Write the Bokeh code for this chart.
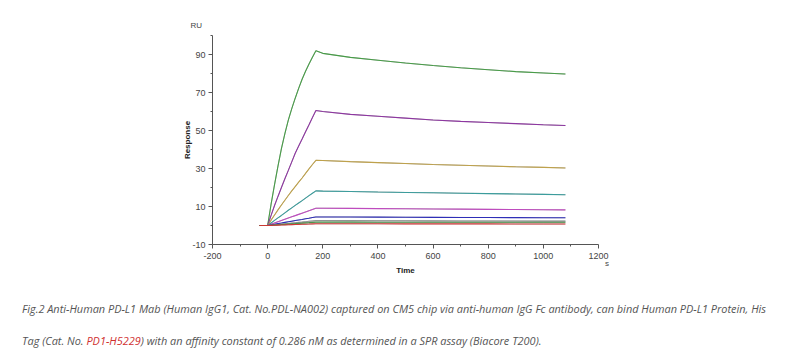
from bokeh.plotting import figure
from bokeh.models import FixedTicker, Range1d, Div, CustomJSTickFormatter
from bokeh.layouts import column
from bokeh.embed import file_html
from bokeh.resources import INLINE

# ---- data ----
time = [-30, 0, 12.5, 25, 37.5, 50, 62.5, 75, 87.5, 100, 112.5, 125, 137.5, 150, 162.5, 175,
        200, 300, 400, 500, 600, 700, 800, 900, 1000, 1080]

s_green   = [0, 0, 11.2, 21.5, 31.3, 40.5, 48.3, 55.5, 61.5, 67.0, 72.2, 77.0, 81.2, 85.0, 88.6, 92.0,
             90.6, 88.5, 87.0, 85.5, 84.2, 83.0, 82.0, 81.0, 80.3, 79.7]
s_purple  = [0, 0, 5.3, 10.5, 15.3, 20.0, 24.6, 29.0, 33.5, 38.0, 41.8, 45.5, 49.3, 53.0, 56.8, 60.5,
             60.0, 58.5, 57.5, 56.5, 55.5, 54.8, 54.2, 53.6, 53.0, 52.6]
s_olive   = [0, 0, 2.8, 5.5, 8.2, 10.8, 13.3, 15.8, 18.2, 20.5, 22.8, 25.0, 27.4, 29.8, 32.1, 34.3,
             34.2, 33.6, 33.1, 32.6, 32.1, 31.7, 31.3, 30.9, 30.6, 30.3]
s_teal    = [0, 0, 1.35, 2.7, 4.0, 5.3, 6.65, 8.0, 9.3, 10.6, 11.85, 13.1, 14.4, 15.7, 16.95, 18.2,
             18.1, 17.9, 17.6, 17.4, 17.2, 17.0, 16.8, 16.6, 16.4, 16.2]
s_magenta = [0, 0, 0.68, 1.35, 2.0, 2.65, 3.3, 3.95, 4.6, 5.2, 5.85, 6.5, 7.15, 7.8, 8.45, 9.1,
             9.1, 9.0, 8.9, 8.8, 8.7, 8.6, 8.5, 8.4, 8.3, 8.2]
s_blue    = [0, 0, 0.33, 0.65, 0.98, 1.3, 1.63, 1.95, 2.28, 2.6, 2.9, 3.2, 3.53, 3.85, 4.18, 4.5,
             4.5, 4.45, 4.4, 4.35, 4.3, 4.25, 4.2, 4.15, 4.1, 4.05]
s_gray    = [0, 0, 0.18, 0.35, 0.53, 0.7, 0.88, 1.05, 1.25, 1.45, 1.63, 1.8, 2.0, 2.2, 2.4, 2.6,
             2.6, 2.55, 2.5, 2.5, 2.45, 2.4, 2.4, 2.35, 2.3, 2.3]
s_dgreen  = [0, 0, 0.13, 0.25, 0.38, 0.5, 0.63, 0.75, 0.88, 1.0, 1.13, 1.25, 1.38, 1.5, 1.65, 1.8,
             1.8, 1.8, 1.75, 1.75, 1.75, 1.7, 1.7, 1.7, 1.7, 1.7]
s_red     = [0, 0, 0.06, 0.12, 0.19, 0.25, 0.31, 0.38, 0.44, 0.5, 0.56, 0.62, 0.69, 0.75, 0.83, 0.9,
             0.9, 0.9, 0.9, 0.85, 0.85, 0.85, 0.85, 0.8, 0.8, 0.8]

series = [s_green, s_purple, s_olive, s_teal, s_magenta, s_blue, s_gray, s_dgreen, s_red]
colors = ["#3d9a3d", "#8a2a9f", "#c0a040", "#2f9a9a", "#c040c0", "#2020b8", "#909090", "#3f8f3f", "#d83030"]

y_major = [-10, 10, 30, 50, 70, 90]
y_minor = [0, 20, 40, 60, 80, 100]
x_major = [-200, 0, 200, 400, 600, 800, 1000, 1200]
x_minor = [-100, 100, 300, 500, 700, 900, 1100]

x_unit = "s"
caption1 = ("Fig.2 Anti-Human PD-L1 Mab (Human IgG1, Cat. No.PDL-NA002) captured on CM5 chip via "
            "anti-human IgG Fc antibody, can bind Human PD-L1 Protein, His")
caption2a = "Tag (Cat. No. "
caption2b = "PD1-H5229"
caption2c = ") with an affinity constant of 0.286 nM as determined in a SPR assay (Biacore T200)."

W, H = 800, 290
p = figure(width=W, height=H, output_backend="svg", toolbar_location=None,
           x_range=Range1d(-200, 1200), y_range=Range1d(-10, 100),
           min_border_left=212, min_border_right=202, min_border_top=35, min_border_bottom=46)
p.outline_line_color = None
p.xgrid.visible = False
p.ygrid.visible = False

for s in series:
    p.line(time, s, line_color="black", line_width=0.6, line_alpha=0.55)
for s, c in zip(series, colors):
    p.line(time, s, line_color=c, line_width=1.1, line_alpha=0.9)

axis_color = "#555555"
fmt = CustomJSTickFormatter(code="return tick.toString();")
for ax in (p.xaxis[0], p.yaxis[0]):
    ax.formatter = fmt
    ax.axis_line_color = axis_color
    ax.major_tick_line_color = axis_color
    ax.minor_tick_line_color = axis_color
    ax.major_tick_in = 0
    ax.major_tick_out = 4
    ax.minor_tick_in = 0
    ax.minor_tick_out = 2
    ax.major_label_text_font = "Liberation Sans"
    ax.major_label_text_font_size = "9px"
    ax.major_label_text_color = "#444444"
    ax.axis_label_text_font = "Liberation Sans"
    ax.axis_label_text_font_size = "8px"
    ax.axis_label_text_font_style = "bold"
    ax.axis_label_text_color = "#222222"

p.yaxis[0].ticker = FixedTicker(ticks=y_major, minor_ticks=y_minor)
p.xaxis[0].ticker = FixedTicker(ticks=x_major, minor_ticks=x_minor)
p.yaxis[0].axis_label = "Response"
p.xaxis[0].axis_label = "Time"
p.yaxis[0].major_label_standoff = 3
p.xaxis[0].major_label_standoff = 4
p.xaxis[0].axis_label_standoff = 4
p.yaxis[0].axis_label_standoff = -3

p.title.text = "RU"
p.title.align = "left"
p.title.offset = -22
p.title.standoff = 12
p.title.text_font = "Liberation Sans"
p.title.text_font_size = "8px"
p.title.text_font_style = "normal"
p.title.text_color = "#444444"

html = ('<div style="position:relative;font-family:\'Open Sans\';font-style:italic;font-size:10.93px;'
        'color:#555555;line-height:32px;margin-top:-2px;padding-left:17px;white-space:nowrap;">'
        '<span style="position:absolute;left:600px;top:-34px;line-height:10px;font-style:normal;'
        'font-family:\'Liberation Sans\';font-size:8px;color:#444444;">' + x_unit + '</span>'
        + caption1 + '<br>' + caption2a
        + '<span style="color:#d03030;">' + caption2b + '</span>' + caption2c + '</div>')
cap = Div(text=html, width=W, height=363 - H, styles={"overflow": "visible"})

layout = column(p, cap, spacing=0)
open("out.html", "w").write(file_html(layout, INLINE))
